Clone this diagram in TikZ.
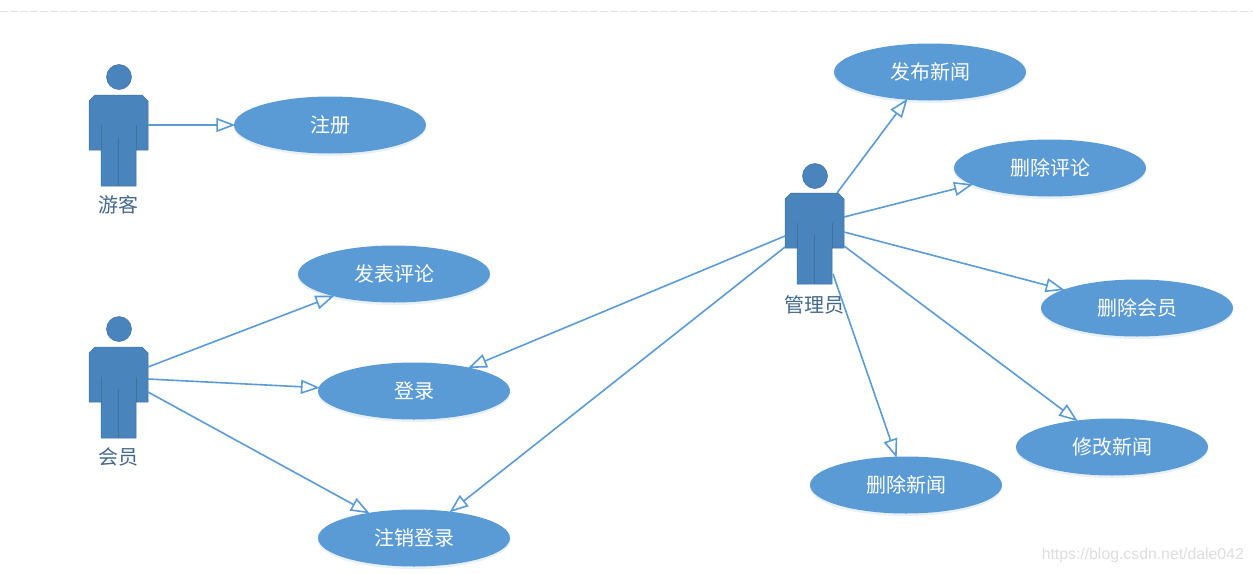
\documentclass[tikz,border=0pt]{standalone}
\usepackage{fontspec}
\setmainfont{Noto Sans CJK SC}
\newfontfamily\wmfont{Liberation Sans}
\usetikzlibrary{arrows.meta,shapes.geometric}
\definecolor{ufill}{HTML}{5B9BD5}
\definecolor{afill}{HTML}{4A84BC}
\definecolor{aline}{HTML}{41719C}
\definecolor{atext}{HTML}{44688C}
\tikzset{
  x=1pt,y=-1pt,
  uc/.style={ellipse,minimum width=192pt,minimum height=57pt,inner sep=0pt,fill=ufill,text=white,font=\fontsize{20}{20}\selectfont,
    preaction={fill=ufill!14,transform canvas={yshift=-2.5pt}}},
  assoc/.style={draw=ufill,line width=1.6pt,shorten >=-1.5pt,-{Triangle[open,fill=white,length=19pt,width=14pt,line width=1.6pt]}},
  actorbox/.style={rectangle,minimum width=59pt,minimum height=91pt,inner sep=0pt,outer sep=0pt},
  actorhead/.style={circle,minimum size=25pt,inner sep=0pt,fill=afill,draw=aline,line width=.5pt},
  actorlabel/.style={text=atext,font=\fontsize{20}{20}\selectfont,inner sep=0pt},
  actorbody/.style={fill=afill,draw=aline,line width=.5pt,line join=miter},
  actorseam/.style={draw=aline,line width=.8pt},
}
\newcommand{\actorfig}[6]{% name, x, y, label, head y offset, label y offset
  \begin{scope}[shift={(#2,#3)}]
    \path[actorbody] (6,0) -- (53,0) -- (59,6) -- (59,55) -- (47,55) -- (47,91) -- (12,91) -- (12,55) -- (0,55) -- (0,6) -- cycle;
    \path[actorseam] (12,30) -- (12,55) (47,30) -- (47,55) (29.5,42) -- (29.5,91);
    \node[actorbox] (#1) at (29.5,45.5) {};
    \node[actorhead] (#1-head) at (30,#5) {};
    \node[actorlabel] (#1-label) at (29.5,#6) {#4};
  \end{scope}
}
\begin{document}
\begin{tikzpicture}
\useasboundingbox (0,0) rectangle (1253,573);
\fill[white] (0,0) rectangle (1253,573);
\coordinate (ruleL) at (0,11.5);
\coordinate (ruleR) at (1253,11.5);
\draw[black!11,line width=.8pt,dash pattern=on 8pt off 2pt] (ruleL) -- (ruleR);

\actorfig{guest}{89}{95}{游客}{-18}{110}
\actorfig{member}{89}{347}{会员}{-18}{110}
\actorfig{admin}{785}{193}{管理员}{-17}{111.5}

\node[uc] (reg) at (330,125) {注册};
\node[uc] (comment) at (394,274) {发表评论};
\node[uc] (login) at (414,391) {登录};
\node[uc] (logout) at (414,538) {注销登录};
\node[uc] (pub) at (930,72) {发布新闻};
\node[uc] (delc) at (1050,168) {删除评论};
\node[uc] (delm) at (1137,308) {删除会员};
\node[uc] (edit) at (1112,447) {修改新闻};
\node[uc] (deln) at (906,485) {删除新闻};

\draw[assoc] ([yshift=15.5pt]guest.east) -- (reg.west);
\draw[assoc] ([yshift=25.5pt]member.east) -- (comment.200);
\draw[assoc] ([yshift=13.5pt]member.east) -- (login.178);
\draw[assoc] ([yshift=0.5pt]member.east) -- (logout.151.5);

\draw[assoc] ([yshift=2.5pt]admin.west) -- (login.23);
\draw[assoc] ([yshift=-8.5pt]admin.west) -- (logout.36.6);
\draw[assoc] ([xshift=-7pt]admin.north east) -- (pub.230.6);
\draw[assoc] ([yshift=21.5pt]admin.east) -- (delc.192.8);
\draw[assoc] ([yshift=6.5pt]admin.east) -- (delm.166);
\draw[assoc] ([yshift=-7.5pt]admin.east) -- (edit.143.4);
\draw[assoc] ([xshift=-11pt,yshift=10pt]admin.south east) -- (deln.109.6);

\node[text=black!13,font=\wmfont\fontsize{15.8}{16}\selectfont,inner sep=0pt,anchor=east] (wm) at (1244,555) {https://blog.csdn.net/dale042};
\end{tikzpicture}
\end{document}
